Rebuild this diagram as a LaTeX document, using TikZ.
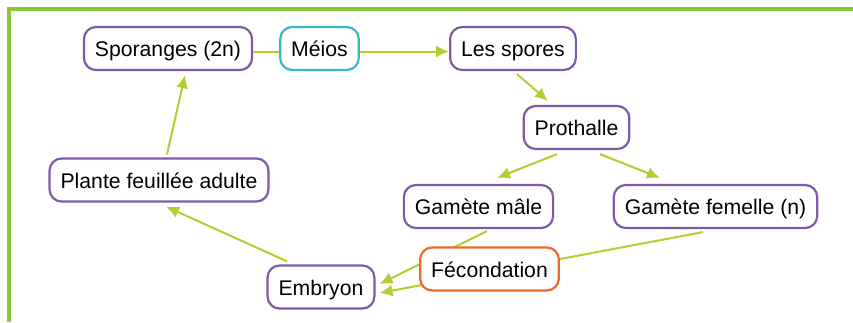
\documentclass[tikz,border=0pt]{standalone}
\usepackage{fontspec}
\setmainfont{Liberation Sans}
\usetikzlibrary{arrows.meta}

\definecolor{cadre}{HTML}{8CC63F}
\definecolor{fleche}{HTML}{B2CD30}
\definecolor{violet}{HTML}{7E5BA6}
\definecolor{turquoise}{HTML}{3AB7C2}
\definecolor{orange}{HTML}{F0692A}

\begin{document}
\begin{tikzpicture}[x=0.5pt,y=-0.5pt]
  \tikzset{
  etape/.style={
    rectangle,
    rounded corners=6pt,
    draw=violet,
    line width=1.1pt,
    fill=white,
    font=\fontsize{10.6}{12}\selectfont,
    inner xsep=5.5pt,
    minimum height=21.5pt,
    text height=8.5pt,
    text depth=0.5pt
  },
  lien/.style={
    draw=fleche,
    line width=1pt
  },
  fl/.style={
    lien,
    -{Latex[length=6.5pt,width=6pt]}
  }
}
\useasboundingbox (0,0) rectangle (853,322);
\draw[cadre, line width=1.6pt] (9,322) -- (9,9) -- (853,9);

\node[etape] at (168,48.5)
  (sporanges) {Sporanges (2n)};
\node[etape, draw=turquoise] at (319.5,48.5)
  (meios) {Méios};
\node[etape] at (513,48.5)
  (spores) {Les spores};
\node[etape] at (576.5,127.5)
  (prothalle) {Prothalle};
\node[etape] at (159,180)
  (plante) {Plante feuillée adulte};
\node[etape] at (478.5,206.5)
  (gmale) {Gamète mâle};
\node[etape] at (715.5,206.5)
  (gfemelle) {Gamète femelle (n)};
\node[etape] at (321,287)
  (embryon) {Embryon};

  \draw[lien] ([shift={(0,3)}]sporanges.east) -- ([shift={(0,3)}]meios.west);
  \draw[fl] ([shift={(0,3)}]meios.east) -- ([shift={(0,3)}]spores.west);

  \draw[fl] ([shift={(8,-3)}]plante.north) -- ([shift={(17,4)}]sporanges.south);
  \draw[fl] ([shift={(4,3)}]spores.south) -- ([shift={(-28.5,-4)}]prothalle.north);
  \draw[fl] ([shift={(-19.5,4)}]prothalle.south) -- ([shift={(18.5,-6)}]gmale.north);
  \draw[fl] ([shift={(23.5,4)}]prothalle.south) -- ([shift={(-55.5,-6)}]gfemelle.north);
  \draw[fl] ([shift={(-34,-3)}]embryon.north) -- ([shift={(7,4)}]plante.south);

  % les deux gametes passent sous la fecondation
  \draw[fl] ([shift={(8.5,2)}]gmale.south) -- ([shift={(4,-3)}]embryon.east);
  \draw[fl] ([shift={(-12.5,3)}]gfemelle.south) -- ([shift={(4,6)}]embryon.east);

\node[etape, draw=orange] at (489.5,269)
  (fecondation) {Fécondation};

\end{tikzpicture}
\end{document}
